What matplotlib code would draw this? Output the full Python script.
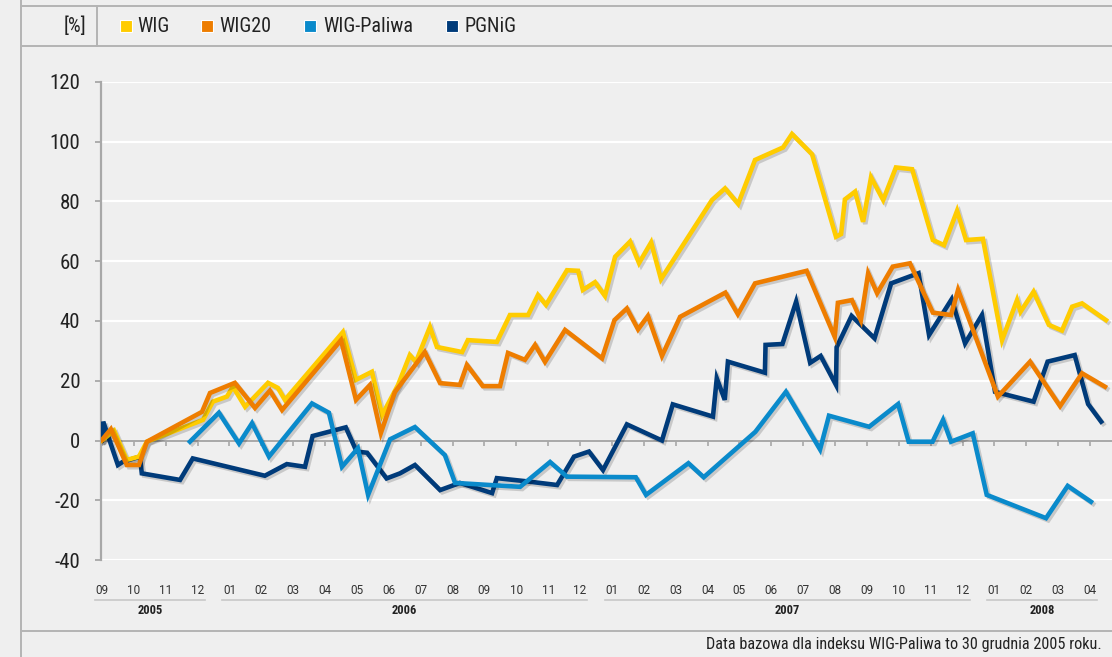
import matplotlib
matplotlib.use('Agg')
import matplotlib.pyplot as plt
import matplotlib.patheffects as pe
from matplotlib.lines import Line2D
from matplotlib.patches import Rectangle
from matplotlib.transforms import blended_transform_factory

plt.rcParams['font.family'] = ['Roboto Condensed', 'Liberation Sans', 'DejaVu Sans']
plt.rcParams['axes.unicode_minus'] = False

# x axis: month index, 0 = 09.2005 ... 31 = 04.2008
month_labels = ['09', '10', '11', '12'] + ['%02d' % i for i in range(1, 13)] * 2 + ['01', '02', '03', '04']
years = ['2005', '2006', '2007', '2008']
year_first = [0, 4, 16, 28]
year_last = [3, 15, 27, 31]

wig_x = [0.0, 0.38, 0.78, 1.16, 1.41, 3.17, 3.48, 3.92, 4.11, 4.49, 5.21, 5.52, 5.74,
         7.56, 7.97, 8.47, 8.79, 9.29, 9.66, 9.85, 10.29, 10.51, 11.30, 11.48, 12.39,
         12.80, 13.37, 13.68, 13.93, 14.59, 14.94, 15.09, 15.47, 15.78, 16.10, 16.57,
         16.85, 17.23, 17.54, 19.14, 19.55, 19.96, 20.49, 21.37, 21.65, 22.28, 23.03,
         23.19, 23.31, 23.63, 23.88, 24.13, 24.51, 24.91, 25.42, 26.07, 26.42, 26.83,
         27.11, 27.64, 28.24, 28.71, 28.82, 29.23, 29.71, 30.12, 30.44, 30.75, 31.50]
wig_y = [0, 3.3, -6.5, -5.4, -0.4, 6.9, 13, 14.7, 18, 11.3, 19.3, 17.6, 13.6,
         36.3, 20.3, 23, 8.5, 18.6, 28.6, 26.3, 38, 31.3, 29.6, 33.6, 33,
         42, 42, 48.7, 45.4, 57, 56.8, 50.4, 53, 48.4, 61.5, 66.6,
         59.4, 66.3, 54, 80.5, 84.4, 79.2, 93.9, 98.1, 102.6, 95.8, 68.2,
         69.1, 80.7, 83.3, 73.2, 88.1, 80.5, 91.4, 90.8, 67.1, 65.4, 76.9,
         67.1, 67.5, 33.6, 47, 43.1, 49.8, 38.7, 36.8, 44.8, 45.9, 40.3]

wig20_x = [0.0, 0.28, 0.78, 1.16, 1.41, 3.14, 3.39, 4.17, 4.80, 5.27, 5.65, 7.50,
           7.97, 8.41, 8.75, 9.19, 10.13, 10.61, 11.23, 11.45, 11.95, 12.49, 12.74,
           13.27, 13.59, 13.90, 14.53, 15.69, 16.08, 16.47, 16.82, 17.13, 17.57,
           18.14, 19.56, 19.95, 20.49, 22.11, 22.99, 23.09, 23.53, 23.81, 24.04,
           24.32, 24.81, 25.35, 26.07, 26.64, 26.86, 28.11, 29.12, 30.06, 30.75, 31.47]
wig20_y = [0.2, 3.8, -8.2, -8.2, -0.4, 9.6, 15.9, 19.3, 10.9, 16.7, 10.2, 33.6,
           13.6, 18.6, 2.5, 16.2, 29.6, 19.2, 18.6, 25.3, 18.2, 18.2, 29.3,
           27, 32, 26.3, 37, 27.5, 40.3, 44.2, 37.2, 41.7, 28.3,
           41.4, 49.5, 42.3, 52.6, 56.8, 34.7, 46.1, 47, 40.3, 56,
           49.3, 58.2, 59.3, 42.8, 42, 50.4, 14.7, 26.4, 11.5, 22.5, 18]

paliwa_x = [2.76, 3.67, 4.30, 4.71, 5.24, 6.59, 7.12, 7.53, 8.03, 8.35, 9.04, 9.82,
            10.76, 11.08, 12.17, 13.12, 14.06, 14.59, 16.75, 17.07, 18.40, 18.88,
            20.50, 21.46, 22.53, 22.81, 24.07, 24.98, 25.31, 26.06, 26.39, 26.64,
            27.32, 27.76, 29.62, 30.30, 31.03]
paliwa_y = [-0.4, 9.3, -1, 5.8, -5.4, 12.4, 9.3, -8.8, -2.6, -18.2, 0.4, 4.5,
            -4.9, -14.2, -14.9, -15.5, -7.2, -12.1, -12.3, -18.2, -7.6, -12.3,
            2.9, 16.3, -3, 8.3, 4.6, 12.2, -0.4, -0.4, 6.9, -0.4,
            2.4, -18.2, -26, -15.2, -20.5]

pgnig_x = [0.0, 0.04, 0.50, 0.66, 1.19, 1.25, 2.45, 2.85, 5.11, 5.80, 6.37, 6.61,
           7.65, 7.99, 8.32, 8.93, 9.35, 9.82, 10.61, 11.23, 12.24, 12.39, 13.27,
           14.28, 14.81, 15.28, 15.72, 16.47, 17.57, 17.91, 19.17, 19.29, 19.54,
           19.64, 20.80, 20.82, 21.35, 21.78, 22.22, 22.55, 23.03, 23.05, 23.52,
           24.24, 24.76, 25.62, 25.95, 26.66, 27.08, 27.61, 28.02, 29.23, 29.67,
           30.52, 30.94, 31.35]
pgnig_y = [0, 6.3, -8.2, -7.1, -5.4, -11, -13.2, -6, -11.8, -7.9, -8.8, 1.5,
           4.4, -3.7, -4.1, -12.7, -11, -8.2, -16.6, -14.2, -17.6, -12.6, -13.6,
           -14.9, -5.4, -3.7, -9.9, 5.4, 0, 12.1, 8, 20.8, 13.6,
           26.4, 22.7, 32, 32.3, 46.5, 26, 28.3, 18.6, 31.2, 41.7,
           34.2, 52.6, 56, 35.3, 47.3, 32.5, 42, 16.3, 13, 26.4,
           28.6, 12.2, 6.3]

series = [
    ('PGNiG', pgnig_x, pgnig_y, '#003b7a'),
    ('WIG', wig_x, wig_y, '#ffcc00'),
    ('WIG20', wig20_x, wig20_y, '#ee7d00'),
    ('WIG-Paliwa', paliwa_x, paliwa_y, '#0a8acb'),
]
legend_order = ['WIG', 'WIG20', 'WIG-Paliwa', 'PGNiG']

BG = '#efefef'
GREY = '#a8a8a8'
FRAME = '#b4b4b4'
W, H = 1112, 657


def fx(px):
    return px / W


def fy(py):
    return 1 - py / H


fig = plt.figure(figsize=(W / 100, H / 100), dpi=100, facecolor=BG)
ax = fig.add_axes([fx(101), fy(560), 1 - fx(101), fy(82) - fy(560)])
ax.set_facecolor(BG)

ax.set_xlim(-0.03, 31.69)
ax.set_ylim(-40, 120)
ax.set_yticks(range(-40, 121, 20))
ax.grid(axis='y', color='white', lw=1.6, zorder=0)
ax.set_axisbelow(True)
for s in ['top', 'right', 'bottom']:
    ax.spines[s].set_visible(False)
ax.spines['left'].set_color(GREY)
ax.spines['left'].set_linewidth(1.6)
ax.tick_params(axis='y', length=4, width=1.3, color=GREY, labelsize=15,
               labelcolor='#222222', pad=11)

# zero line with small month ticks
ax.axhline(0, color=GREY, lw=1.4, zorder=1)
ax.vlines(range(len(month_labels)), -1.7, 0, color=GREY, lw=1.2, zorder=1)

for name, xs, ys, col in series:
    ax.plot(xs, ys, color=col, lw=3.3, solid_joinstyle='miter', zorder=3,
            path_effects=[pe.SimpleLineShadow(offset=(1.6, -1.6), shadow_color='black', alpha=0.16),
                          pe.Normal()])

# month labels and year groups
ax.set_xticks(range(len(month_labels)))
ax.set_xticklabels(month_labels, fontsize=8.5, color='#333333',
                   family=['Roboto', 'Liberation Sans', 'DejaVu Sans'])
ax.tick_params(axis='x', length=0, pad=17)
tr = blended_transform_factory(ax.transData, ax.transAxes)
for yr, a, b in zip(years, year_first, year_last):
    ax.plot([a - 0.22, b + 0.22], [-0.0837, -0.0837], transform=tr, color='#c8c8c8',
            lw=1.2, clip_on=False)
    ax.text((a + b) / 2, -0.105, yr, transform=tr, ha='center', va='center',
            fontsize=9, fontweight='bold', color='#222222')

# frame lines
frame = [
    ([21, 21], [0, 657]),
    ([21, 1112], [5.5, 5.5]),
    ([21, 1112], [45.5, 45.5]),
    ([97, 97], [5.5, 45.5]),
    ([21, 1112], [631, 631]),
]
for xs, ys in frame:
    fig.add_artist(Line2D([fx(v) for v in xs], [fy(v) for v in ys], color=FRAME, lw=1.4))

# legend row
fig.text(fx(86), fy(26), '[%]', ha='right', va='center', fontsize=14.5, color='#222222')
colors = {n: c for n, xs, ys, c in series}
leg_sq = [120, 201, 304, 446]
leg_tx = [137, 219, 323, 464]
for name, sx, tx in zip(legend_order, leg_sq, leg_tx):
    fig.add_artist(Rectangle((fx(sx), fy(32)), fx(12), 12 / H, facecolor=colors[name],
                             edgecolor='white', lw=0.8))
    fig.text(fx(tx), fy(26), name, ha='left', va='center', fontsize=14.5, color='#222222')

fig.text(fx(1102), fy(645), 'Data bazowa dla indeksu WIG-Paliwa to 30 grudnia 2005 roku.',
         ha='right', va='center', fontsize=11.7, color='#222222')

fig.savefig('out.png', dpi=100, facecolor=BG)
